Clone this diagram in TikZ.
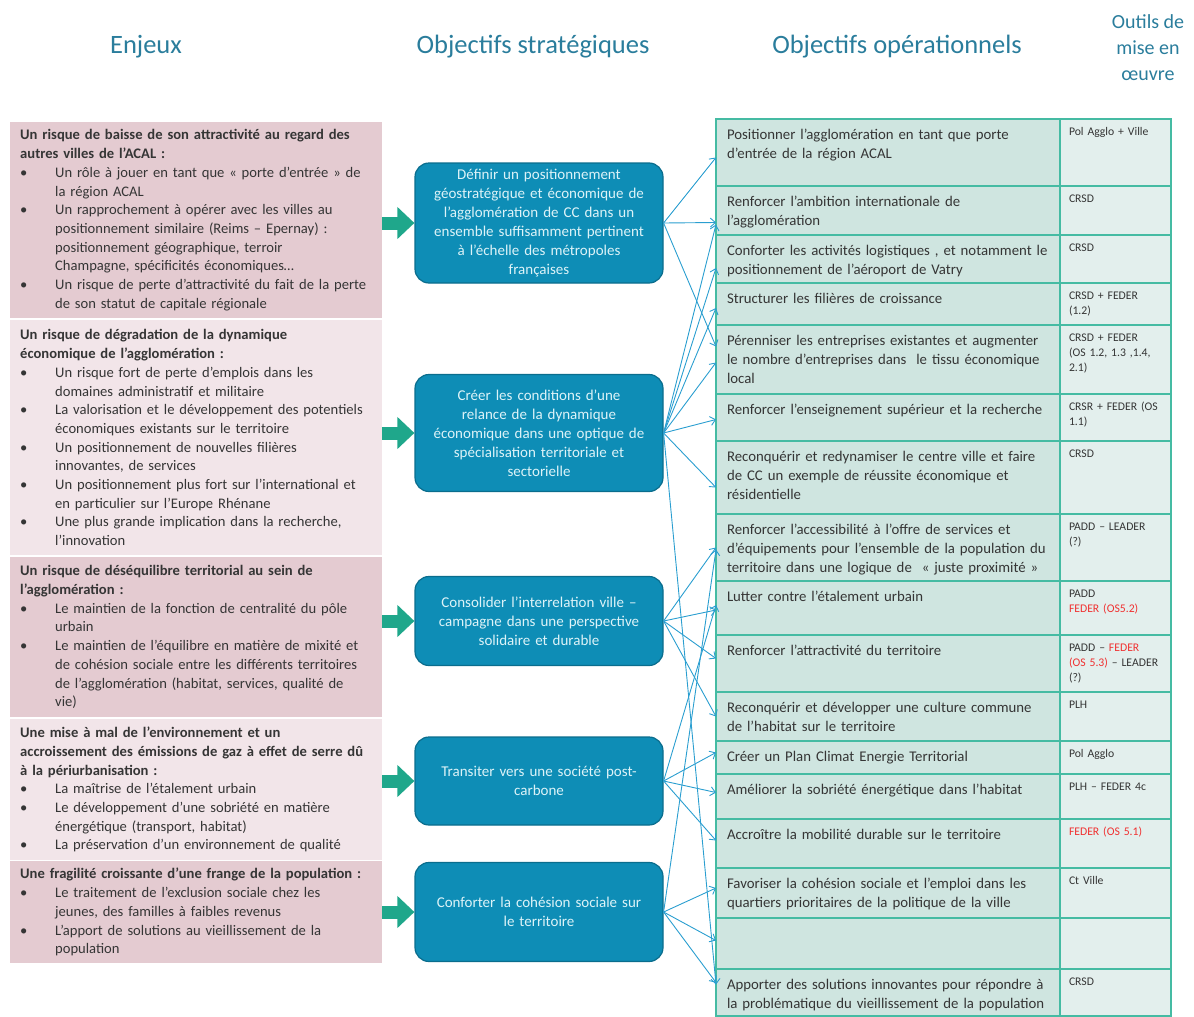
\documentclass[tikz,border=0pt]{standalone}
\usepackage{fontspec}
\setmainfont{Carlito}
\usepackage{tikz}
\usetikzlibrary{positioning,arrows.meta}
\definecolor{titrecol}{HTML}{2A7D9C}
\definecolor{rosefonce}{HTML}{E4CBD1}
\definecolor{roseclair}{HTML}{F2E5E9}
\definecolor{textecol}{HTML}{353535}
\definecolor{bleuos}{HTML}{0E8DB6}
\definecolor{bleuosfonce}{HTML}{0A6D8D}
\definecolor{bleutexte}{HTML}{DDF3F8}
\definecolor{vertbloc}{HTML}{1FA78B}
\definecolor{lienbleu}{HTML}{2A9ED0}
\definecolor{bordure}{HTML}{45BBA3}
\definecolor{celluleA}{HTML}{CFE5E0}
\definecolor{celluleB}{HTML}{E3EFED}
\definecolor{rougefeder}{HTML}{F03030}
\newcommand{\puce}{\makebox[35pt][l]{\textbullet}}
\newcommand{\suite}{\hspace*{35pt}}
\newcommand{\feder}[1]{\textcolor{rougefeder}{#1}}

\begin{document}
\begin{tikzpicture}[x=1pt,y=-1pt,
    titre/.style={text=titrecol,font=\fontsize{26.5}{30}\selectfont},
    enjeu/.style={rectangle,anchor=north west,text width=352pt,inner xsep=10pt,inner ysep=0pt,
                  align=left,text=textecol,font=\fontsize{14.6}{18.7}\selectfont},
    os/.style={rectangle,rounded corners=14pt,draw=bleuosfonce,line width=1.2pt,fill=bleuos,
               minimum width=248pt,text width=234pt,align=center,text=bleutexte,
               font=\fontsize{15}{19}\selectfont},
    bloc/.style={vertbloc,line width=13pt,-{Triangle[length=17pt,width=31pt]}},
    oo/.style={rectangle,draw=bordure,line width=1.8pt,fill=celluleA,outer sep=0pt,
               text width=322pt,inner xsep=11pt,inner ysep=6pt,text height=14pt,align=left,
               text=textecol,font=\fontsize{14.8}{19}\selectfont},
    outil/.style={rectangle,draw=bordure,line width=1.8pt,fill=celluleB,outer sep=0pt,
               text width=93pt,inner xsep=9pt,inner ysep=6pt,text height=10.5pt,align=left,
               text=textecol,font=\fontsize{11.7}{15}\selectfont},
    lien/.style={lienbleu,line width=0.9pt,-{Straight Barb[length=5pt,width=9pt]}}]
  \useasboundingbox (0,0) rectangle (1194,1017);

  % titres
  \node[titre] (h1) at (146,47) {Enjeux};
  \node[titre] (h2) at (533,47) {Objectifs stratégiques};
  \node[titre] (h3) at (897,47) {Objectifs opérationnels};
  \node[titre,align=center,font=\fontsize{20}{26}\selectfont] (h4) at (1148,48) {Outils de\\mise en\\œuvre};

  % enjeux
  \node[enjeu,fill=rosefonce,minimum height=196pt] (e1) at (10,122) {%
    \textbf{Un risque de baisse de son attractivité au regard des}\\
    \textbf{autres villes de l’ACAL :}\\
    \puce Un rôle à jouer en tant que « porte d’entrée » de\\
    \suite la région ACAL\\
    \puce Un rapprochement à opérer avec les villes au\\
    \suite positionnement similaire (Reims – Epernay) :\\
    \suite positionnement géographique, terroir\\
    \suite Champagne, spécificités économiques…\\
    \puce Un risque de perte d’attractivité du fait de la perte\\
    \suite de son statut de capitale régionale};
  \node[enjeu,fill=roseclair,minimum height=235pt] (e2) at (10,320) {%
    \textbf{Un risque de dégradation de la dynamique}\\
    \textbf{économique de l’agglomération :}\\
    \puce Un risque fort de perte d’emplois dans les\\
    \suite domaines administratif et militaire\\
    \puce La valorisation et le développement des potentiels\\
    \suite économiques existants sur le territoire\\
    \puce Un positionnement de nouvelles filières\\
    \suite innovantes, de services\\
    \puce Un positionnement plus fort sur l’international et\\
    \suite en particulier sur l’Europe Rhénane\\
    \puce Une plus grande implication dans la recherche,\\
    \suite l’innovation};
  \node[enjeu,fill=rosefonce,minimum height=160pt] (e3) at (10,557) {%
    \textbf{Un risque de déséquilibre territorial au sein de}\\
    \textbf{l’agglomération :}\\
    \puce Le maintien de la fonction de centralité du pôle\\
    \suite urbain\\
    \puce Le maintien de l’équilibre en matière de mixité et\\
    \suite de cohésion sociale entre les différents territoires\\
    \suite de l’agglomération (habitat, services, qualité de\\
    \suite vie)};
  \node[enjeu,fill=roseclair,minimum height=141pt] (e4) at (10,719) {%
    \textbf{Une mise à mal de l’environnement et un}\\
    \textbf{accroissement des émissions de gaz à effet de serre dû}\\
    \textbf{à la périurbanisation :}\\
    \puce La maîtrise de l’étalement urbain\\
    \puce Le développement d’une sobriété en matière\\
    \suite énergétique (transport, habitat)\\
    \puce La préservation d’un environnement de qualité};
  \node[enjeu,fill=rosefonce,minimum height=102pt] (e5) at (10,861) {%
    \textbf{Une fragilité croissante d’une frange de la population :}\\
    \puce Le traitement de l’exclusion sociale chez les\\
    \suite jeunes, des familles à faibles revenus\\
    \puce L’apport de solutions au vieillissement de la\\
    \suite population};

  % objectifs strategiques
  \node[os,minimum height=120pt] (s1) at (539,223) {Définir un positionnement\\géostratégique et économique de\\l’agglomération de CC dans un\\ensemble suffisamment pertinent\\à l’échelle des métropoles\\françaises};
  \node[os,minimum height=117pt] (s2) at (539,433) {Créer les conditions d’une\\relance de la dynamique\\économique dans une optique de\\spécialisation territoriale et\\sectorielle};
  \node[os,minimum height=89pt] (s3) at (539,621) {Consolider l’interrelation ville –\\campagne dans une perspective\\solidaire et durable};
  \node[os,minimum height=88pt] (s4) at (539,781) {Transiter vers une société post-\\carbone};
  \node[os,minimum height=99pt] (s5) at (539,912) {Conforter la cohésion sociale sur\\le territoire};

  \draw[bloc] (e1.east |- s1.west) -- (s1.west);
  \draw[bloc] (e2.east |- s2.west) -- (s2.west);
  \draw[bloc] (e3.east |- s3.west) -- (s3.west);
  \draw[bloc] (e4.east |- s4.west) -- (s4.west);
  \draw[bloc] (e5.east |- s5.west) -- (s5.west);

  % objectifs operationnels + outils
  \node[oo,text depth=41pt,anchor=north west] (o1) at (716,119) {Positionner l’agglomération en tant que porte\\d’entrée de la région ACAL};
  \node[outil,text depth=44.5pt,right=0pt of o1] (t1) {Pol Agglo + Ville};
  \node[oo,text depth=23pt,below=0pt of o1] (o2) {Renforcer l’ambition internationale de\\l’agglomération};
  \node[outil,text depth=26.5pt,right=0pt of o2] (t2) {CRSD};
  \node[oo,text depth=22pt,below=0pt of o2] (o3) {Conforter les activités logistiques , et notamment le\\positionnement de l’aéroport de Vatry};
  \node[outil,text depth=25.5pt,right=0pt of o3] (t3) {CRSD};
  \node[oo,text depth=16pt,below=0pt of o3] (o4) {Structurer les filières de croissance};
  \node[outil,text depth=19.5pt,right=0pt of o4] (t4) {CRSD + FEDER\\(1.2)};
  \node[oo,text depth=43pt,below=0pt of o4] (o5) {Pérenniser les entreprises existantes et augmenter\\le nombre d’entreprises dans\ \ le tissu économique\\local};
  \node[outil,text depth=46.5pt,right=0pt of o5] (t5) {CRSD + FEDER\\(OS 1.2, 1.3 ,1.4,\\2.1)};
  \node[oo,text depth=21pt,below=0pt of o5] (o6) {Renforcer l’enseignement supérieur et la recherche};
  \node[outil,text depth=24.5pt,right=0pt of o6] (t6) {CRSR + FEDER (OS\\1.1)};
  \node[oo,text depth=47pt,below=0pt of o6] (o7) {Reconquérir et redynamiser le centre ville et faire\\de CC un exemple de réussite économique et\\résidentielle};
  \node[outil,text depth=50.5pt,right=0pt of o7] (t7) {CRSD};
  \node[oo,text depth=41pt,below=0pt of o7] (o8) {Renforcer l’accessibilité à l’offre de services et\\d’équipements pour l’ensemble de la population du\\territoire dans une logique de\ \ « juste proximité »};
  \node[outil,text depth=44.5pt,right=0pt of o8] (t8) {PADD – LEADER\\(?)};
  \node[oo,text depth=28pt,below=0pt of o8] (o9) {Lutter contre l’étalement urbain};
  \node[outil,text depth=31.5pt,right=0pt of o9] (t9) {PADD\\\feder{FEDER (OS5.2)}};
  \node[oo,text depth=31pt,below=0pt of o9] (o10) {Renforcer l’attractivité du territoire};
  \node[outil,text depth=34.5pt,right=0pt of o10] (t10) {PADD – \feder{FEDER}\\\feder{(OS 5.3)} – LEADER\\(?)};
  \node[oo,text depth=23pt,below=0pt of o10] (o11) {Reconquérir et développer une culture commune\\de l’habitat sur le territoire};
  \node[outil,text depth=26.5pt,right=0pt of o11] (t11) {PLH};
  \node[oo,text depth=7pt,below=0pt of o11] (o12) {Créer un Plan Climat Energie Territorial};
  \node[outil,text depth=10.5pt,right=0pt of o12] (t12) {Pol Agglo};
  \node[oo,text depth=19pt,below=0pt of o12] (o13) {Améliorer la sobriété énergétique dans l’habitat};
  \node[outil,text depth=22.5pt,right=0pt of o13] (t13) {PLH – FEDER 4c};
  \node[oo,text depth=23pt,below=0pt of o13] (o14) {Accroître la mobilité durable sur le territoire};
  \node[outil,text depth=26.5pt,right=0pt of o14] (t14) {\feder{FEDER (OS 5.1)}};
  \node[oo,text depth=24pt,below=0pt of o14] (o15) {Favoriser la cohésion sociale et l’emploi dans les\\quartiers prioritaires de la politique de la ville};
  \node[outil,text depth=27.5pt,right=0pt of o15] (t15) {Ct Ville};
  \node[oo,text depth=25pt,below=0pt of o15] (o16) {};
  \node[outil,text depth=28.5pt,right=0pt of o16] (t16) {};
  \node[oo,text depth=21pt,below=0pt of o16] (o17) {Apporter des solutions innovantes pour répondre à\\la problématique du vieillissement de la population};
  \node[outil,text depth=24.5pt,right=0pt of o17] (t17) {CRSD};

  % liens
  \draw[lien] (s1.east) -- ([yshift=-5pt]o1.west);
  \draw[lien] (s1.east) -- ([yshift=-12pt]o2.west);
  \draw[lien] (s1.east) -- ([yshift=13pt]o5.west);
  \draw[lien] (s2.east) -- ([yshift=-14pt]o2.west);
  \draw[lien] (s2.east) -- ([yshift=-9pt]o3.west);
  \draw[lien] (s2.east) -- ([yshift=-4pt]o4.west);
  \draw[lien] (s2.east) -- ([yshift=-3pt]o5.west);
  \draw[lien] (s2.east) -- ([yshift=-2pt]o6.west);
  \draw[lien] (s2.east) -- ([yshift=-10pt]o7.west);
  \draw[lien] (s2.east) -- ([yshift=8pt]o17.west);
  \draw[lien] (s3.east) -- (o8.west);
  \draw[lien] (s3.east) -- ([yshift=-2pt]o9.west);
  \draw[lien] (s3.east) -- ([yshift=5pt]o10.west);
  \draw[lien] (s3.east) -- (o11.west);
  \draw[lien] (s4.east) -- ([yshift=3pt]o9.west);
  \draw[lien] (s4.east) -- ([yshift=5pt]o12.west);
  \draw[lien] (s4.east) -- ([yshift=4pt]o13.west);
  \draw[lien] (s4.east) -- ([yshift=3pt]o14.west);
  \draw[lien] (s5.east) -- ([yshift=-2pt]o8.west);
  \draw[lien] (s5.east) -- ([yshift=5pt]o15.west);
  \draw[lien] (s5.east) -- ([yshift=3pt]o16.west);
  \draw[lien] (s5.east) -- ([yshift=10pt]o17.west);
\end{tikzpicture}
\end{document}
